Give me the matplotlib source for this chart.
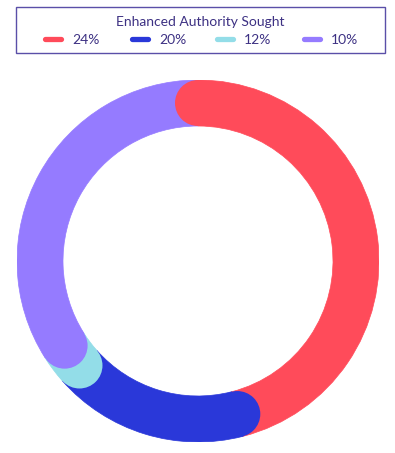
import matplotlib
matplotlib.use("Agg")
import matplotlib.pyplot as plt
from matplotlib.patches import Wedge, Circle, Rectangle
from matplotlib.lines import Line2D
import numpy as np

title = "Enhanced Authority Sought"
labels = ["24%", "20%", "12%", "10%"]
arc_values = [46.0, 17.5, 2.5, 34.0]   # visible arc shares (percent of ring)
colors = ["#FF4B5A", "#2A38D9", "#93DDE8", "#957BFF"]
text_color = "#3D3183"
frame_color = "#5A4FA8"

W, H = 395, 453
fig = plt.figure(figsize=(W / 100, H / 100), dpi=100)
plt.rcParams['font.family'] = ['Lato', 'DejaVu Sans']

# ---- donut ----
cx, cy, R = 198, 261, 181
ax = fig.add_axes([(cx - R) / W, (H - cy - R) / H, 2 * R / W, 2 * R / H])
ax.set_xlim(-1, 1)
ax.set_ylim(-1, 1)
ax.set_aspect('equal')
ax.axis('off')
inner = 135 / 181
width = 1 - inner
mid = (1 + inner) / 2

vals = np.array(arc_values, dtype=float)
ends = np.cumsum(vals) / vals.sum() * 360
starts = ends - vals / vals.sum() * 360
for s, e, c in zip(starts, ends, colors):
    ax.add_patch(Wedge((0, 0), 1, 90 - e, 90 - s, width=width, facecolor=c,
                       edgecolor=c, linewidth=0.5, zorder=1))
for s, c in zip(starts, colors):
    a = np.deg2rad(90 - s)
    ax.add_patch(Circle((mid * np.cos(a), mid * np.sin(a)), width / 2,
                        facecolor=c, edgecolor='none', zorder=2))

# ---- legend ----
lx0, ly0, lx1, ly1 = 15.5, 6.5, 384.5, 52.5
fig.patches.append(Rectangle((lx0 / W, 1 - ly1 / H), (lx1 - lx0) / W, (ly1 - ly0) / H,
                             transform=fig.transFigure, facecolor='white',
                             edgecolor=frame_color, linewidth=1.0))
fig.text(200 / W, 1 - 21.5 / H, title, ha='center', va='center', fontsize=10,
         color=text_color)
handle_x = [43, 130, 215, 302]
for hx, lab, c in zip(handle_x, labels, colors):
    fig.lines.append(Line2D([(hx + 2) / W, (hx + 18) / W], [1 - 39 / H, 1 - 39 / H],
                            transform=fig.transFigure, color=c, linewidth=3.8,
                            solid_capstyle='round'))
    fig.text((hx + 29) / W, 1 - 39.5 / H, lab, ha='left', va='center', fontsize=10,
             color=text_color)

fig.savefig("out.png", dpi=100)
